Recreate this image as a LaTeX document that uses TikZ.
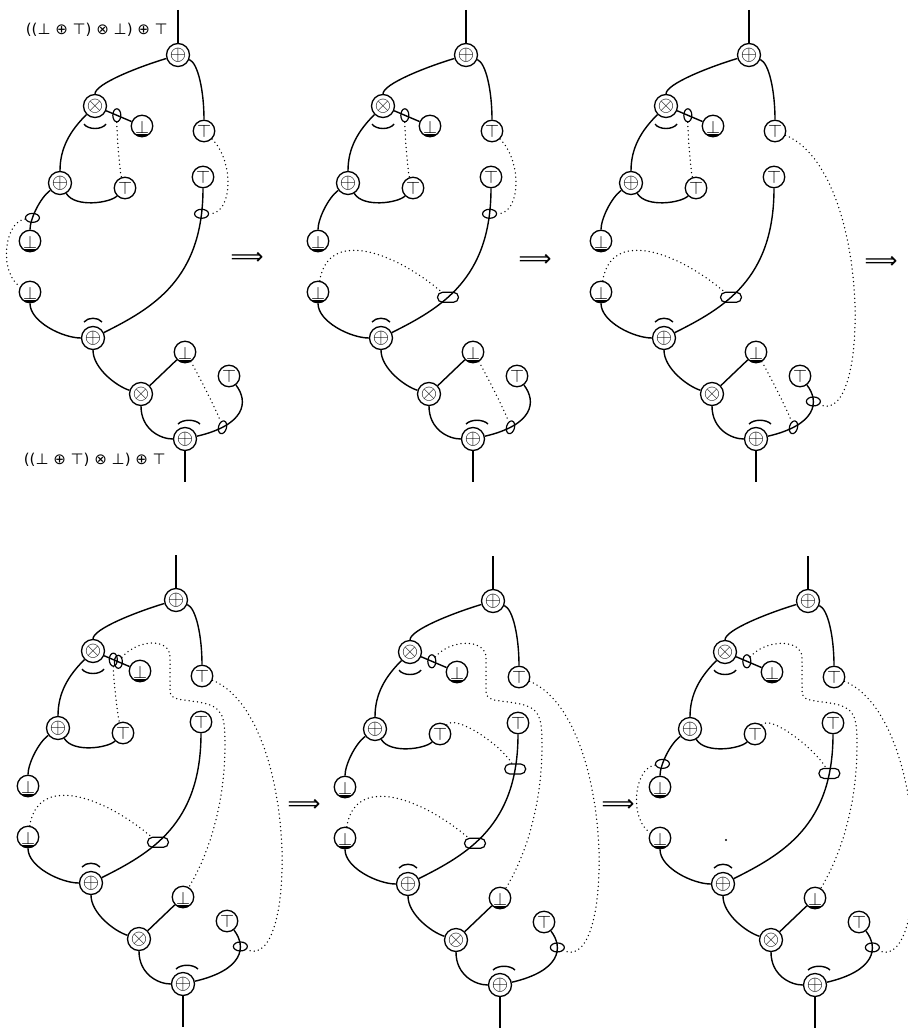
\documentclass[tikz,border=0pt]{standalone}
\usepackage{fontspec}
\usepackage{graphicx}
\usetikzlibrary{shapes.misc,shapes.geometric}
\newfontfamily\symf{DejaVu Sans}
\tikzset{
  wire/.style={line width=1.4pt},
  dots/.style={line width=1.5pt, dash pattern=on 0pt off 4.2pt, line cap=round},
  conn/.style={circle, draw, line width=1.3pt, inner sep=0pt, minimum size=23pt},
  unit/.style={circle, draw, line width=1.3pt, inner sep=0pt, minimum size=21.5pt},
  botu/.style={unit, text height=15pt, text depth=0pt, path picture={\fill ([yshift=-8.3pt]path picture bounding box.center) ++(-12pt,0pt) rectangle ++(24pt,-6pt);}},
  jv/.style={ellipse, draw, solid, line width=1.2pt, inner sep=0pt, minimum width=8pt, minimum height=13pt},
  jh/.style={ellipse, draw, solid, line width=1.2pt, inner sep=0pt, minimum width=14pt, minimum height=9pt},
  jw/.style={rounded rectangle, draw, solid, line width=1.2pt, inner sep=0pt, minimum width=21pt, minimum height=10pt},
  lab/.style={font=\symf\fontsize{15}{15}\selectfont, inner sep=0pt},
  arr/.style={inner sep=0pt, font=\symf\fontsize{23}{23}\selectfont}
}
\newcommand\cplus{\scalebox{2.1}{$\oplus$}}
\newcommand\ctimes{\scalebox{2.1}{$\otimes$}}
\newcommand\ctop{\scalebox{1.8}{$\top$}}
\newcommand\cbot{\scalebox{1.8}{$\bot$}}
\newcommand\basepanel[4]{%
  \node[conn] (PT) at (178,55) {\cplus};
  \node[conn] (X) at (95,106) {\ctimes};
  \node[botu] (Ba) at (142,126) {\cbot};
  \node[unit] (Tr) at (204,131) {\ctop};
  \node[unit] (Tr2) at (203,177) {\ctop};
  \node[conn] (PL) at (60,183) {\cplus};
  \node[unit] (Tm) at (125,188) {\ctop};
  \node[botu] (Bb) at (30,241) {\cbot};
  \node[botu] (Bc) at (30,292) {\cbot};
  \node[conn] (PC) at (93,338) {\cplus};
  \node[botu] (Bd) at (185,352) {\cbot};
  \node[unit] (Te) at (229,376) {\ctop};
  \node[conn] (XB) at (141,394) {\ctimes};
  \node[conn] (PB) at (185,439) {\cplus};
  \coordinate (in) at (178,10);
  \coordinate (out) at (185,482);
  \draw[wire] (in) -- (PT);
  \draw[wire] (PB) -- (out);
  \draw[wire] (PT) .. controls +(-40,12) and +(0,-22) .. (X);
  \draw[wire] (PT) .. controls +(20,8) and +(0,-40) .. (Tr);
  \draw[wire] (X) -- (Ba) #1;
  \draw[wire] (X) .. controls +(-25,25) and +(0,-35) .. (PL);
  \draw[wire] (PL) .. controls +(15,25) and +(-15,15) .. (Tm);
  \draw[wire] (PL) .. controls +(-20,15) and +(0,-22) .. (Bb) #2;
  \draw[wire] (Bc) .. controls +(0,30) and +(-30,0) .. (PC);
  \draw[wire] (Tr2) .. controls +(0,102) and +(60,-30) .. (PC) #3;
  \draw[wire] (PC) .. controls +(0,30) and +(-25,-8) .. (XB);
  \draw[wire] (XB) -- (Bd);
  \draw[wire] (XB) .. controls +(0,35) and +(-25,0) .. (PB);
  \draw[wire] (Te) .. controls +(20,26) and +(60,-14) .. (PB) #4;
  \draw[wire] (X.center) ++(-11,18) .. controls +(4,6) and +(-4,6) .. ++(22,0);
  \draw[wire] (PC.center) ++(-9,-16) .. controls +(4,-5) and +(-4,-5) .. ++(18,0);
  \draw[wire] (PB.center) ++(-7,-15) .. controls +(5,-5) and +(-5,-5) .. ++(22,0);
}
\newcommand\longdots[2]{% from node #1, vertical run at x=#2
  \draw[dots] (#1) .. controls +(18,-22) and +(0,-20) .. (#2,112) -- (#2,145) .. controls +(0,10) and +(-20,-3) .. (200,157) .. controls +(25,4) and +(0,-30) .. (227,200) .. controls +(0,50) and +(30,-50) .. (Bd);
}
\begin{document}
\begin{tikzpicture}[x=1pt,y=-1pt]
\useasboundingbox (0,0) rectangle (907,1035);
% panel 1
\begin{scope}[name prefix=p1-]
  \basepanel{node[pos=.42,jv](o1){}}{node[pos=.7,jh](oL){}}{node[pos=.1,jh](oR){}}{node[pos=.78,jv,rotate=-15](oB){}}
  \draw[dots] (Tr) .. controls +(30,30) and +(32,0) .. (oR);
  \draw[dots] (o1) .. controls +(0,20) and +(-5,-15) .. (Tm);
  \draw[dots] (oL) .. controls +(-30,5) and +(-30,-17) .. (Bc);
  \draw[dots] (Bd) .. controls +(12,20) and +(-5,-15) .. (oB);
  \node[lab, anchor=east] (L1) at (168,30) {((⊥ ⊕ ⊤) ⊗ ⊥) ⊕ ⊤};
  \node[lab, anchor=east] (L2) at (166,460) {((⊥ ⊕ ⊤) ⊗ ⊥) ⊕ ⊤};
\end{scope}
% panel 2
\begin{scope}[shift={(288,0)}, name prefix=p2-]
  \basepanel{node[pos=.42,jv](o1){}}{}{node[pos=.1,jh](oR){} node[pos=.6,jw](oC){}}{node[pos=.78,jv,rotate=-15](oB){}}
  \draw[dots] (Tr) .. controls +(30,30) and +(32,0) .. (oR);
  \draw[dots] (o1) .. controls +(0,20) and +(-5,-15) .. (Tm);
  \draw[dots] (Bc) .. controls +(10,-63) and +(-56,-47) .. (oC);
  \draw[dots] (Bd) .. controls +(12,20) and +(-5,-15) .. (oB);
\end{scope}
% panel 3
\begin{scope}[shift={(571,0)}, name prefix=p3-]
  \basepanel{node[pos=.42,jv](o1){}}{}{node[pos=.6,jw](oC){}}{node[pos=.3,jh](oT){} node[pos=.78,jv,rotate=-15](oB){}}
  \draw[dots] (Tr) .. controls +(97,40) and +(58,29) .. (oT);
  \draw[dots] (o1) .. controls +(0,20) and +(-5,-15) .. (Tm);
  \draw[dots] (Bc) .. controls +(10,-63) and +(-56,-47) .. (oC);
  \draw[dots] (Bd) .. controls +(12,20) and +(-5,-15) .. (oB);
\end{scope}
% panel 4
\begin{scope}[shift={(-2,545)}, name prefix=p4-]
  \basepanel{node[pos=.36,jv](o1){} node[pos=.56,jv](o1b){}}{}{node[pos=.6,jw](oC){}}{node[pos=.3,jh](oT){}}
  \draw[dots] (Tr) .. controls +(97,40) and +(58,29) .. (oT);
  \draw[dots] (o1) .. controls +(0,20) and +(-5,-15) .. (Tm);
  \draw[dots] (Bc) .. controls +(10,-63) and +(-56,-47) .. (oC);
  \longdots{o1b}{172}
\end{scope}
% panel 5
\begin{scope}[shift={(315,546)}, name prefix=p5-]
  \basepanel{node[pos=.42,jv](o1){}}{}{node[pos=.14,jw](oM){} node[pos=.6,jw](oC){}}{node[pos=.3,jh](oT){}}
  \draw[dots] (Tr) .. controls +(97,40) and +(58,29) .. (oT);
  \draw[dots] (Tm) .. controls +(15,-20) and +(-15,-25) .. (oM);
  \draw[dots] (Bc) .. controls +(10,-63) and +(-56,-47) .. (oC);
  \longdots{o1}{171}
\end{scope}
% panel 6
\begin{scope}[shift={(630,546)}, name prefix=p6-]
  \basepanel{node[pos=.42,jv](o1){}}{node[pos=.7,jh](oL){}}{node[pos=.16,jw](oM){}}{node[pos=.3,jh](oT){}}
  \draw[dots] (Tr) .. controls +(97,40) and +(58,29) .. (oT);
  \draw[dots] (Tm) .. controls +(15,-20) and +(-15,-25) .. (oM);
  \draw[dots] (oL) .. controls +(-30,5) and +(-30,-17) .. (Bc);
  \longdots{o1}{172}
  \fill (96,294) circle[radius=1.2pt];
\end{scope}
% arrows
\node[arr] (a12) at (247,258) {⟹};
\node[arr] (a23) at (535,260) {⟹};
\node[arr] (a34) at (881,262) {⟹};
\node[arr] (a45) at (304,805) {⟹};
\node[arr] (a56) at (618,805) {⟹};
\end{tikzpicture}
\end{document}
